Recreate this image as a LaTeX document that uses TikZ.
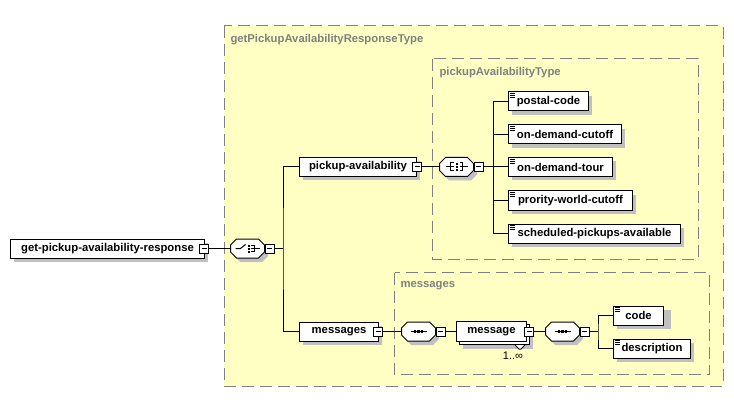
\documentclass[tikz,border=0pt]{standalone}
\usepackage{fontspec}
\setmainfont{Liberation Sans}

\definecolor{typefill}{HTML}{FFFFC4}
\definecolor{typeline}{HTML}{808080}
\definecolor{shadowgray}{HTML}{C0C0C0}

\begin{document}
\begin{tikzpicture}
  [
    x = 1pt, y = -1pt, line width = 1pt,
    every node/.style = {font = \fontsize{11.3}{13}\selectfont\bfseries},
    typebox/.style = {draw = typeline, fill = typefill, dash pattern = on 12pt off 6pt},
    typelabel/.style = {text = typeline, anchor = west, inner sep = 0pt},
    box/.style = {draw, fill = white, anchor = west, minimum height = 19pt,
      inner xsep = 8pt, inner ysep = 0pt},
    minus/.style = {draw, fill = white, minimum size = 9pt, inner sep = 0pt},
    compositor/.style = {minimum width = 34pt, minimum height = 19pt,
      inner sep = 0pt, anchor = west},
    compbody/.pic = {
      \path[pic actions] (-17,-3.5) -- (-11,-9.5) -- (11,-9.5) -- (17,-3.5)
        -- (17,3.5) -- (11,9.5) -- (-11,9.5) -- (-17,3.5) -- cycle;},
    doclines/.pic = {
      \draw[line width = 0.8pt] (2,2) -- (7,2) (2,4) -- (7,4) (2,6) -- (7,6);},
    minusbar/.pic = {\draw (-2.5,0) -- (2.5,0);},
    seqicon/.pic = {
      \draw (-8,0) -- (8,0);
      \foreach \d in {-3.5,0,3.5} \fill (\d-1.2,-1.2) rectangle (\d+1.2,1.2);},
    choiceicon/.pic = {
      \draw (-12,0) -- (-7,0) -- (-2,-4);
      \foreach \d in {-3,0,3} \fill (0,\d-1) rectangle (2,\d+1);
      \draw (3.5,-3) -- (7,-3) (3.5,0) -- (12,0) (3.5,3) -- (7,3) (7,-3) -- (7,3);},
    allicon/.pic = {
      \draw (-11,0) -- (-6,0) (-3,-4) -- (-6,-4) -- (-6,4) -- (-3,4) (-6,0) -- (-3,0);
      \draw (11,0) -- (6,0) (3,-4) -- (6,-4) -- (6,4) -- (3,4) (6,0) -- (3,0);
      \foreach \d in {-3,0,3} \fill (-1,\d-1) rectangle (1,\d+1);}
  ]
  \path[use as bounding box, fill = white] (0,0) rectangle (734,417);

  % complex types
  \draw[typebox] (224,26) rectangle (723,386);
  \draw[typebox] (432,59) rectangle (698,259);
  \draw[typebox] (394.5,272.5) rectangle (709,374.5);
  \node[typelabel] (outerlbl) at (230,40) {getPickupAvailabilityResponseType};
  \node[typelabel] (pattlbl) at (439,72.5) {pickupAvailabilityType};
  \node[typelabel] (msgslbl) at (400,286) {messages};

  % shadows
  \foreach \xa/\ya/\xb/\yb in {14/243/208/262, 303/161.5/420/180.5, 303/326/382/345,
      512/96/592/115, 512/129/625/148, 512/161.5/616/180.5, 512/195/636/214,
      512/228/684/247, 463/328.5/533/348.5, 617/310/671/329, 617/343/694/362}
    \fill[shadowgray] (\xa,\ya) rectangle (\xb,\yb);
  \foreach \cx/\cy in {251/252.5, 460/171, 422/335.5, 566/335.5}
    \pic[fill = shadowgray] at (\cx,\cy) {compbody};

  % root
  \node[box, minimum width = 194pt] (root) at (10,248.5) {get-pickup-availability-response};
  \node[minus] (mroot) at ([xshift = -1pt]root.east) {};
  \node[compositor] (ch) at (230,248.5) {};
  \node[minus] (mch) at ([xshift = 4.5pt]ch.east) {};
  \coordinate (j0) at (283,248.5);

  \node[box, minimum width = 117pt] (pa) at (299,167) {pickup-availability};
  \node[minus] (mpa) at (pa.east) {};
  \node[box, minimum width = 79pt] (msgs) at (299,331.5) {messages};
  \node[minus] (mmsgs) at ([xshift = -1pt]msgs.east) {};

  % pickup availability
  \node[compositor] (all) at (439,167) {};
  \node[minus] (mall) at ([xshift = 4.5pt]all.east) {};
  \coordinate (j1) at (493,167);
  \node[box, minimum width = 80pt]  (pc)  at (508,101.5) {postal-code};
  \node[box, minimum width = 113pt] (odc) at (508,134.5) {on-demand-cutoff};
  \node[box, minimum width = 104pt] (odt) at (508,167)   {on-demand-tour};
  \node[box, minimum width = 124pt] (pwc) at (508,200.5) {prority-world-cutoff};
  \node[box, minimum width = 172pt] (spa) at (508,233.5) {scheduled-pickups-available};

  % messages
  \node[compositor] (seq1) at (401,331.5) {};
  \node[minus] (mseq1) at ([xshift = 4.5pt]seq1.east) {};
  \node[box, minimum width = 70pt, minimum height = 20pt] (msgb) at (459,334.5) {};
  \draw[fill = white] (515,345) -- (519,349) -- (521,349) -- (525,345);
  \node[box, minimum width = 70pt, minimum height = 20pt] (msg) at (456,331.5) {message};
  \node[minus] (mmsg) at ([xshift = 2pt]msg.east) {};
  \node[font = \fontsize{11}{13}\selectfont\mdseries] (mult) at (513,355.5) {1..∞};
  \node[compositor] (seq2) at (545,331.5) {};
  \node[minus] (mseq2) at ([xshift = 4.5pt]seq2.east) {};
  \coordinate (j2) at (598,331.5);
  \node[box, minimum width = 50pt] (code) at (613,315.5) {code};
  \node[box, minimum width = 77pt] (desc) at (613,348.5) {description};

  % icons
  \foreach \n in {ch, all, seq1, seq2}
    \pic[draw, fill = white] at (\n.center) {compbody};
  \pic at (ch.center) {choiceicon};
  \pic at (all.center) {allicon};
  \pic at (seq1.center) {seqicon};
  \pic at (seq2.center) {seqicon};
  \foreach \n in {mroot, mch, mpa, mmsgs, mall, mseq1, mmsg, mseq2}
    \pic at (\n.center) {minusbar};
  \foreach \n in {pc, odc, odt, pwc, spa, code, desc}
    \pic at (\n.north west) {doclines};

  % connectors
  \draw (mroot.east) -- (ch.west);
  \draw (mch.east) -- (j0);
  \draw (pa.west) -| (j0) |- (msgs.west);
  \draw (mpa.east) -- (all.west);
  \draw (mall.east) -- (j1);
  \draw (pc.west) -| (j1) |- (spa.west);
  \draw (j1) |- (odc.west);
  \draw (j1) -- (odt.west);
  \draw (j1) |- (pwc.west);
  \draw (mmsgs.east) -- (seq1.west);
  \draw (mseq1.east) -- (msg.west);
  \draw (mmsg.east) -- (seq2.west);
  \draw (mseq2.east) -- (j2);
  \draw (code.west) -| (j2) |- (desc.west);
\end{tikzpicture}
\end{document}
